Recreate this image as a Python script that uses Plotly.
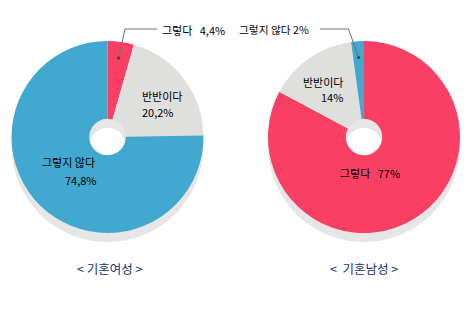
import math
import plotly.graph_objects as go

W, H = 470, 309

categories = ["그렇다", "반반이다", "그렇지 않다"]
women_values = [4.4, 20.2, 74.8]
men_values = [77, 14, 2]
women_labels = ["4,4%", "20,2%", "74,8%"]
men_labels = ["77%", "14%", "2%"]
titles = ["< 기혼여성 >", "<  기혼남성 >"]
colors = ["#fa3f64", "#dfdfdd", "#41a8cf"]
shadow_color = "#e6e6e6"
FONT = "Noto Sans CJK KR"

R = 96
HOLE = 0.19
SHADOW_DY = 9
centers = [(107.5, 137), (364, 137)]


def dom(cx, cy, r, dy=0):
    return dict(x=[(cx - r) / W, (cx + r) / W],
                y=[1 - (cy + dy + r) / H, 1 - (cy + dy - r) / H])


fig = go.Figure()
for (cx, cy) in centers:
    fig.add_trace(go.Pie(values=[1], labels=["s"], marker=dict(colors=[shadow_color]),
                         hole=HOLE, textinfo="none", hoverinfo="skip", sort=False,
                         domain=dom(cx, cy, R, SHADOW_DY), showlegend=False))

for (cx, cy), vals in zip(centers, [women_values, men_values]):
    fig.add_trace(go.Pie(values=vals, labels=categories, marker=dict(colors=colors),
                         hole=HOLE, textinfo="none", sort=False, direction="clockwise",
                         rotation=0, domain=dom(cx, cy, R), showlegend=False))


def px(x):
    return x / W


def py(y):
    return 1 - y / H


def ann(x, y, text, anchor="left", size=11, color="#000"):
    fig.add_annotation(x=px(x), y=py(y), xref="paper", yref="paper", text=text,
                       showarrow=False, xanchor=anchor, yanchor="middle",
                       font=dict(family=FONT, size=size, color=color))


def mid_point(vals, idx, center, frac=0.83):
    tot = sum(vals)
    start = sum(vals[:idx]) / tot * 360
    mid = start + vals[idx] / tot * 360 / 2
    a = math.radians(mid)
    return center[0] + frac * R * math.sin(a), center[1] - frac * R * math.cos(a)


# left pie labels
ann(139.5, 96, categories[1])
ann(139.5, 112, women_labels[1])
ann(97, 162, categories[2], anchor="right")
ann(98.5, 180, women_labels[2], anchor="right")
ann(160, 30, categories[0] + "&nbsp;&nbsp;&nbsp;" + women_labels[0])

# right pie labels
ann(345, 82, categories[1], anchor="right")
ann(345, 97, men_labels[1], anchor="right")
ann(338, 173, categories[0] + "&nbsp;&nbsp;&nbsp;" + men_labels[0])
ann(311, 30, categories[2] + " " + men_labels[2], anchor="right", size=10.7)

# leader lines
lx, ly = mid_point(women_values, 0, centers[0])
rx, ry = mid_point(men_values, 2, centers[1])
line = dict(color="#707070", width=1)
fig.add_shape(type="path", xref="paper", yref="paper",
              path=f"M {px(lx)} {py(ly)} L {px(125)} {py(29)} L {px(157)} {py(29)}", line=line)
fig.add_shape(type="path", xref="paper", yref="paper",
              path=f"M {px(rx)} {py(ry)} L {px(348.5)} {py(29)} L {px(320)} {py(29)}", line=line)
for (x, y) in [(lx, ly), (rx, ry)]:
    fig.add_shape(type="circle", xref="paper", yref="paper",
                  x0=px(x - 1.6), x1=px(x + 1.6), y0=py(y + 1.6), y1=py(y - 1.6),
                  fillcolor="#444", line=dict(width=0))

# titles
ann(110, 268.5, titles[0], anchor="center", size=12.5, color="#1a2d74")
ann(364, 268.5, titles[1], anchor="center", size=12.5, color="#1a2d74")

fig.update_layout(width=W, height=H, margin=dict(l=0, r=0, t=0, b=0),
                  paper_bgcolor="white", plot_bgcolor="white", showlegend=False)
fig.write_html("out.html")
